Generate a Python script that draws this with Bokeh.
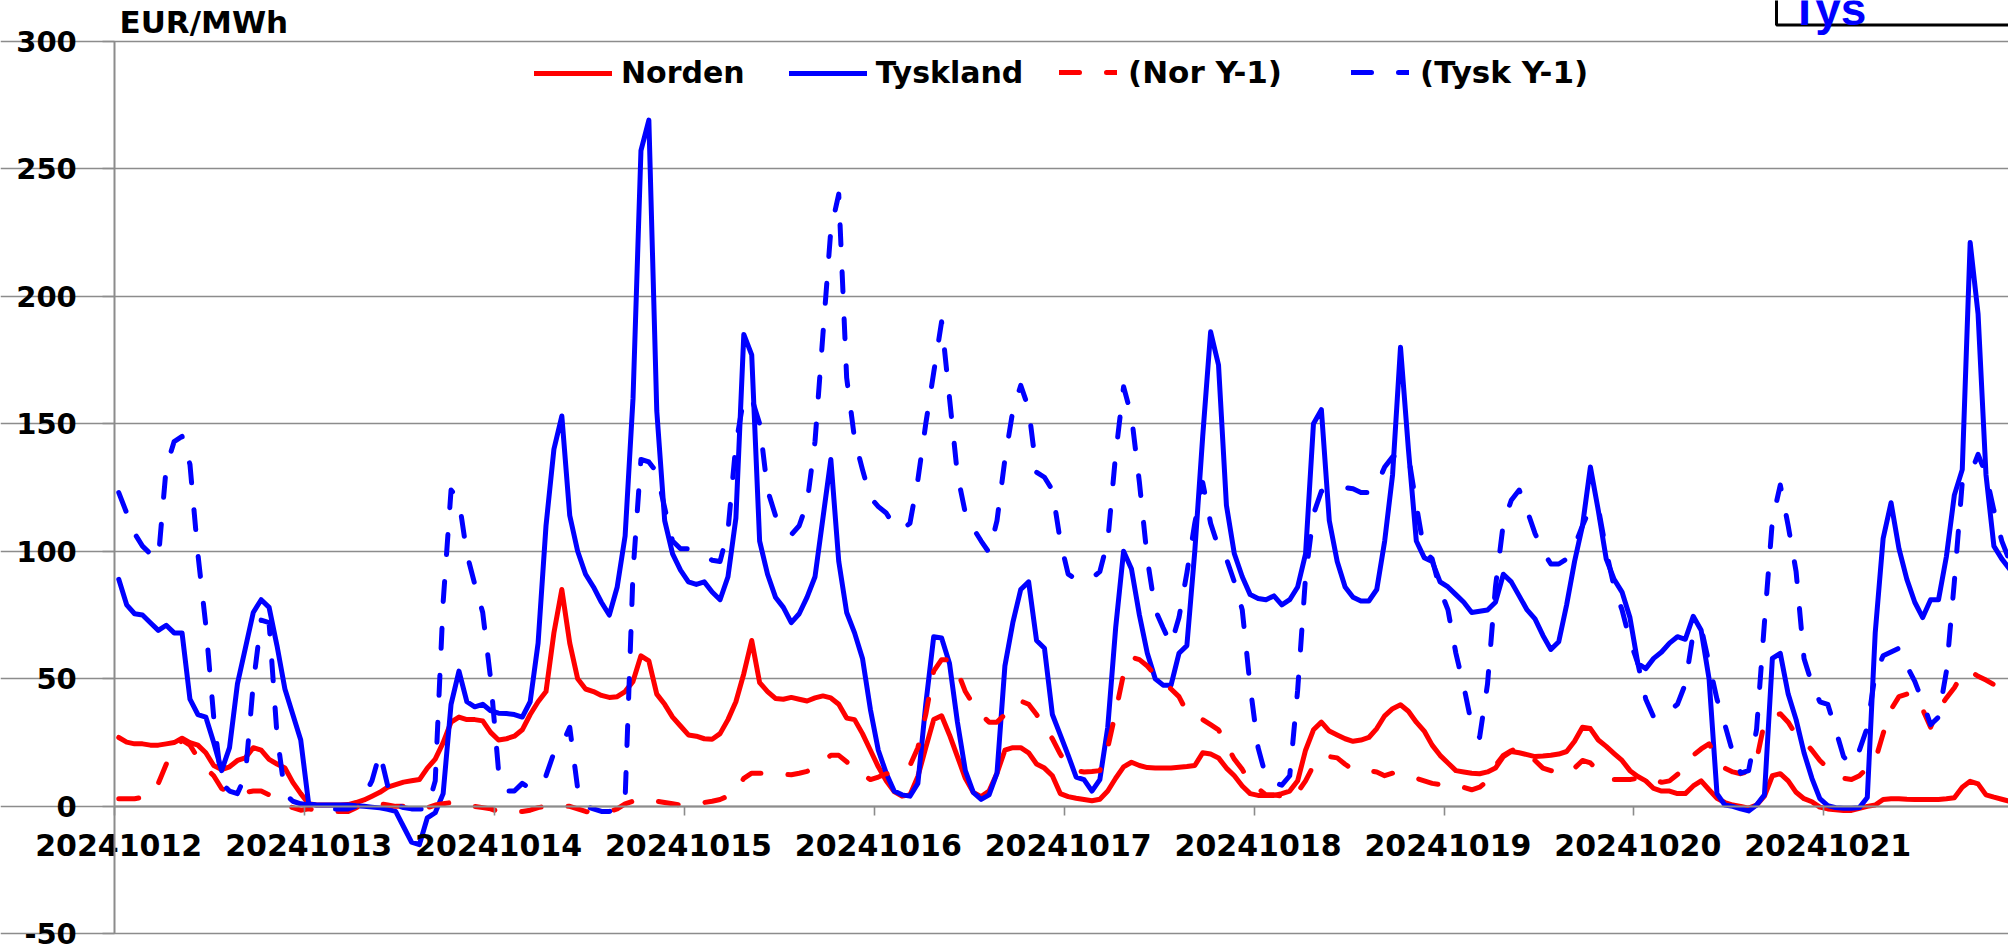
from bokeh.plotting import figure
from bokeh.models import (FixedTicker, Legend, LegendItem, Label, BoxAnnotation,
                          ColumnDataSource, Range1d, LinearAxis)
from bokeh.embed import file_html
from bokeh.resources import INLINE

# ---------------- data ----------------
dates = ["20241012", "20241013", "20241014", "20241015", "20241016",
         "20241017", "20241018", "20241019", "20241020", "20241021"]
hours_per_day = 24
y_ticks = [-50, 0, 50, 100, 150, 200, 250, 300]
y_tick_labels = ["-50", "0", "50", "100", "150", "200", "250", "300"]
y_title = "EUR/MWh"
corner_text = "Tys"
series_names = ["Norden", "Tyskland", "(Nor Y-1)", "(Tysk Y-1)"]

norden = [
    27, 25.2, 24.5, 24.5, 24, 24, 24.5, 25, 26.7, 25, 24, 21, 16, 14.4, 15.5, 18, 19, 23, 22, 18.4, 16.6, 15, 9.4, 5,
    1, 0.5, 0.5, 0.5, 0.5, 0.7, 1.5, 2.5, 4, 5.5, 7.5, 8.5, 9.5, 10, 10.5, 15, 18.5, 25, 33, 35, 34, 34, 33.5, 29,
    26, 26.5, 27.5, 30, 36, 41, 45, 68, 85, 64, 50, 46, 45, 43.5, 42.7, 43, 45, 49, 59, 57, 44, 40, 35, 31.5,
    28, 27.5, 26.5, 26.3, 28.5, 34, 41, 52, 65, 48.5, 45, 42.3, 42, 42.7, 42, 41.3, 42.5, 43.3, 42.5, 40, 34.6, 34, 28.5, 22,
    15.5, 10, 5.8, 4, 4.5, 11.7, 23, 34, 35.5, 28, 19.5, 11, 5.5, 3.8, 6, 13, 22, 23, 23, 21, 16.6, 15, 12, 5,
    3.8, 3.2, 2.7, 2.2, 2.8, 6, 11, 15.5, 17.3, 16, 15.2, 15, 15, 15, 15.3, 15.6, 16, 21, 20.5, 19, 15, 12, 8, 5,
    4.3, 4.3, 4.3, 5, 6, 10, 22, 30, 33, 29.5, 28, 26.5, 25.5, 26, 27, 30.5, 35.5, 38.3, 39.8, 37.3, 33, 29.5, 24, 20,
    17, 14, 13.5, 13, 12.8, 13.5, 15, 19.5, 21.5, 21, 20.3, 19.5, 19.7, 20, 20.5, 21.5, 25.5, 31, 30.5, 26, 23.5, 20.7, 18, 14,
    11.7, 10, 7, 6, 6, 5, 5, 8, 10, 6.5, 3.2, 1.5, 0.5, 0, -0.7, 0.5, 4, 12, 12.8, 10, 5.5, 3, 1.8, -0.3,
    -1, -1.3, -1.6, -1.6, -0.8, 0, 0.5, 2.7, 3, 3, 2.8, 2.7, 2.7, 2.7, 2.7, 3, 3.4, 7.5, 9.8, 8.8, 4.5, 3.6, 2.8, 2,
]

tyskland = [
    89, 79, 75.5, 75, 72, 69, 71, 68, 68, 42, 36, 35, 25, 14, 23, 48, 62, 76, 81, 78, 63, 46, 36, 26,
    1, 0.5, 0.5, 0.5, 0.5, 0.5, 0.2, 0, -0.3, -0.6, -1.2, -2, -8, -14, -15, -4.5, -2.5, 5, 40, 53, 41, 39, 40, 37.5,
    36.5, 36.4, 36, 35, 41, 64, 110, 140, 153, 114, 100, 91, 86, 80, 75, 86, 106, 160, 257, 269, 155, 112, 99, 92.6,
    88, 87, 88, 84, 81, 90, 113, 185, 177, 104, 91, 82, 78, 72, 75.5, 82, 90, 113, 136, 96, 76, 68, 58, 38,
    22, 13, 6, 4.5, 4, 9, 40, 66.5, 66, 56, 33, 14, 5.5, 2.7, 4.5, 13, 55, 72, 85, 88, 65, 62, 36, 28,
    20, 11.5, 10.5, 6, 10.5, 31, 70, 100, 93, 75, 60, 50, 47.5, 47.5, 60, 63, 100, 145, 186, 173, 118, 99, 90, 83,
    81.5, 81, 82.5, 79, 81, 86, 99, 150, 155.5, 112, 96, 86, 82, 80.5, 80.5, 85, 104, 130, 180, 140, 104, 97.5, 96, 88,
    86, 83, 80, 76, 76.5, 77, 80, 91, 88, 82.5, 77, 73.5, 67, 61.5, 64.5, 79, 96, 110, 133, 116, 97, 89, 84, 74,
    56, 54, 58, 60.5, 64, 66.5, 65.5, 74.5, 69, 50, 5, 0.5, 0, -1, -1.8, 0.5, 4.5, 58, 60, 44, 34, 21, 11, 3,
    0.3, -0.5, -0.7, -0.7, -0.5, 3.5, 68, 105, 119, 101, 89, 80, 74, 81, 81, 98, 122, 132, 221, 193, 130, 102, 97, 93,
]

nor_y1 = [
    3, 3, 3, 3.5, 4.5, 9, 16.5, 22.5, 26, 24, 19, 15, 12, 7, 5.5, 5, 5.5, 6, 6, 4.5, 2, 0.5, -0.5, -1.5,
    -1, -1.5, -2, -2, -2, -2, -0.5, 0.5, 1.5, 1, 0.5, 0, 0, -1, -1.3, -0.5, 0.5, 1, 1.5, 1.5, 0.5, 0, -0.5, -1,
    -2, -2, -2, -2, -1.5, -0.5, 0, 0, 0, 0, -1, -2, -2.5, -2.5, -2, -1, 1, 2, 2.5, 2.5, 2, 1.5, 1, 0.5,
    1, 1.5, 1.5, 2, 2.7, 4, 6, 11, 13, 13, 12.8, 12.6, 12.5, 12.4, 13, 13.7, 15.5, 18, 20, 20, 17.5, 14.5, 12.5, 10.5,
    11.5, 12.8, 13, 14, 16, 23, 36, 53, 57.5, 57.5, 53, 45, 40, 36, 33, 33, 36, 40, 41.3, 40, 36, 31, 26.5, 20.5,
    15.5, 14, 13.5, 13.7, 14, 23, 37, 52, 58.5, 57.5, 55, 51.5, 49, 46, 43, 37, 35.5, 34, 32, 30, 24, 18.5, 14.5, 9,
    7, 4.5, 4.5, 4, 2.7, 5.5, 10, 16, 19.5, 19.5, 19, 16.5, 14.5, 14, 14, 13.5, 12, 13, 12.5, 12, 11, 10, 9, 8.5,
    8.8, 8, 7.4, 6.5, 7.5, 10, 16, 20, 21.8, 23, 20.5, 18, 15, 14, 13.3, 12.8, 15, 18, 17, 14, 12, 10.5, 10.5, 10.5,
    11, 11.5, 10.5, 9.4, 10, 12.5, 15, 20, 22.5, 24.5, 19, 15, 13.5, 12.8, 13.7, 18, 33, 35, 36.3, 33, 28, 25.5, 22, 18,
    15, 12.5, 11, 10.5, 12, 15, 18, 28.5, 38, 43, 44, 43.5, 38, 31, 38, 42.5, 46.5, 52, 53, 51, 49.5, 47.7, 46, 44,
]

tysk_y1 = [
    123, 115, 107, 102, 99, 97, 133, 143, 145, 134, 99, 71, 35, 9, 6, 5, 12, 48, 73, 72, 28, 5, 2, 1,
    0.5, 0, -0.5, -1, -1, -1, 0, 4, 10, 21, 8, 0.5, -0.5, -1, -1, -1, 10, 80, 124, 120, 99, 87, 76, 50,
    14, 6, 6, 9, 7, 8, 12, 21, 24, 31, 7, 0, -1, -2, -2, -1, 3, 92, 136, 135, 131, 117, 104, 101,
    101, 99, 98, 96.5, 96, 108, 142, 160, 160, 150, 124, 114, 109, 106.5, 110, 119, 143, 185, 226, 240, 168, 144, 132, 121,
    117.5, 115, 110, 108.5, 111, 128, 150, 170, 190, 160, 130, 115, 109, 104, 99.5, 112, 136, 155, 165, 156, 131, 129, 124, 104,
    91, 89, 88.5, 89.5, 92, 104, 138, 164.5, 153, 127, 97, 77, 70, 63.4, 74, 91.5, 111, 127, 111, 101.5, 97, 88, 77, 47,
    23, 11.5, 9.3, 8.3, 12, 45.5, 90, 114.5, 123.5, 125, 125, 125, 124.5, 123, 123, 126, 133, 137, 138.5, 137.5, 118, 100, 97, 85,
    77, 60, 47, 32, 27, 48, 86, 111, 120, 124, 116, 107, 100, 95, 95, 97, 102, 110, 117, 117, 100, 86, 77, 65,
    56, 42, 35, 35, 37.5, 40, 48, 68, 70, 56, 42, 32, 21, 13, 14, 30, 72, 112, 126, 110, 92, 58, 48, 41,
    40, 30, 19.5, 16.2, 22, 31, 52, 59, 60.5, 62, 55, 49, 41, 32, 35, 53, 88, 127, 130, 138, 130, 116, 104, 96,
]

# ---------------- figure ----------------
n = len(norden)
hour_index = [i + 0.5 for i in range(n)]   # category centres
source = ColumnDataSource(dict(x=hour_index, norden=norden, tyskland=tyskland,
                               nor_y1=nor_y1, tysk_y1=tysk_y1))

W, H = 2008, 947
PX_PER_HOUR = 7.912
PX_PER_UNIT = 2.551
AXIS_X = 114.3     # pixel position of the value axis
Y300 = 40.55       # pixel position of the 300 gridline


def px_to_x(px):
    return (px - AXIS_X) / PX_PER_HOUR


def px_to_y(py):
    return 300 + (Y300 - py) / PX_PER_UNIT


x0 = px_to_x(0)
x1 = px_to_x(W)
ytop = px_to_y(0)
ybot = px_to_y(H)

FONT = "DejaVu Sans"
GRID = "#8c8c8c"

p = figure(width=W, height=H, output_backend="svg", toolbar_location=None,
           x_range=Range1d(x0, x1), y_range=Range1d(ybot, ytop),
           min_border_left=0, min_border_right=0, min_border_top=0, min_border_bottom=0)
p.outline_line_color = None
p.background_fill_color = "white"
p.border_fill_color = "white"

# grid (extends a little to the left of the value axis, like tick marks)
p.xgrid.grid_line_color = None
p.ygrid.grid_line_color = GRID
p.ygrid.grid_line_width = 1.6
p.ygrid.ticker = FixedTicker(ticks=y_ticks)
p.ygrid.bounds = (-12 / PX_PER_HOUR, 250)

# value axis, drawn inside the frame at x = 0
ya = p.yaxis[0]
ya.fixed_location = 0
ya.bounds = (min(y_ticks), max(y_ticks))
ya.ticker = FixedTicker(ticks=y_ticks)
ya.major_label_overrides = {t: s for t, s in zip(y_ticks, y_tick_labels)}
ya.axis_line_color = GRID
ya.axis_line_width = 2
ya.major_tick_line_color = GRID
ya.major_tick_line_width = 1.6
ya.major_tick_in = 0
ya.major_tick_out = 12
ya.minor_tick_line_color = None
ya.major_label_text_font = FONT
ya.major_label_text_font_style = "bold"
ya.major_label_text_font_size = "29px"
ya.major_label_text_color = "black"
ya.major_label_standoff = 26

# category axis crossing at 0: tick marks at day boundaries
day_ticks = [d * hours_per_day for d in range(len(dates))]
xa = p.xaxis[0]
xa.fixed_location = 0
xa.bounds = (0, 300)
xa.ticker = FixedTicker(ticks=day_ticks)
xa.major_label_overrides = {t: "" for t in day_ticks}
xa.major_label_text_font_size = "0px"
xa.axis_line_color = GRID
xa.axis_line_width = 2
xa.major_tick_line_color = GRID
xa.major_tick_line_width = 1.6
xa.major_tick_in = 0
xa.major_tick_out = 9
xa.minor_tick_line_color = None

# labels centred on the first hour of each day
label_ticks = [t + 0.5 for t in day_ticks]
xl = LinearAxis(fixed_location=0, ticker=FixedTicker(ticks=label_ticks),
                major_label_overrides={t: lab for t, lab in zip(label_ticks, dates)},
                axis_line_color=None, major_tick_line_color=None, minor_tick_line_color=None,
                major_tick_in=0, major_tick_out=0, major_label_standoff=28,
                major_label_text_font=FONT, major_label_text_font_style="bold",
                major_label_text_font_size="30px", major_label_text_color="black")
p.add_layout(xl, "below")

# lines
LW = 5
r_nor = p.line("x", "norden", source=source, line_color="#ff0000", line_width=LW,
               line_join="round", line_cap="round")
r_tys = p.line("x", "tyskland", source=source, line_color="#0000ff", line_width=LW,
               line_join="round", line_cap="round")
r_nor1 = p.line("x", "nor_y1", source=source, line_color="#ff0000", line_width=LW,
                line_dash="20 27", line_join="round", line_cap="round")
r_tys1 = p.line("x", "tysk_y1", source=source, line_color="#0000ff", line_width=LW,
                line_dash="20 27", line_join="round", line_cap="round")

legend_style = dict(orientation="horizontal", glyph_height=20, padding=0, margin=0,
                    border_line_color=None, background_fill_alpha=0,
                    label_text_font=FONT, label_text_font_style="bold",
                    label_text_color="black")
legend_a = Legend(items=[LegendItem(label=series_names[0], renderers=[r_nor]),
                         LegendItem(label=series_names[1], renderers=[r_tys])],
                  location=(534, 857), glyph_width=78, label_standoff=9, spacing=44,
                  label_text_font_size="30px", **legend_style)
legend_b = Legend(items=[LegendItem(label=series_names[2], renderers=[r_nor1]),
                         LegendItem(label=series_names[3], renderers=[r_tys1])],
                  location=(1059, 857), glyph_width=58, label_standoff=11, spacing=69,
                  label_text_font_size="31px", **legend_style)
p.add_layout(legend_a)
p.add_layout(legend_b)

# unit title (placed in data space above the 300 line)
p.add_layout(Label(x=px_to_x(119), y=px_to_y(21), text=y_title,
                   text_font=FONT, text_font_style="bold",
                   text_font_size="31px", text_color="black", text_baseline="alphabetic"))

# clipped box in the top-right corner
p.add_layout(BoxAnnotation(left=px_to_x(1776), right=x1 + 20,
                           bottom=px_to_y(24.5), top=ytop + 20,
                           fill_color="white", fill_alpha=1,
                           line_color="black", line_alpha=1, line_width=3))
p.add_layout(Label(x=px_to_x(1790), y=px_to_y(8), text=corner_text,
                   text_font="Liberation Sans", text_font_style="bold",
                   text_font_size="46px", text_color="#0000ff", text_baseline="alphabetic"))

open("out.html", "w").write(file_html(p, INLINE))
